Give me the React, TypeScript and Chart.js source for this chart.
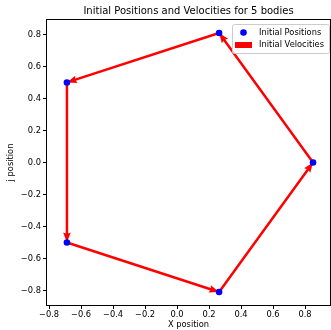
import React, { useEffect, useRef } from "react";
import { Chart, registerables } from "chart.js";

Chart.register(...registerables);

// Body positions (five bodies on a ring)
const posX = [0.85, 0.263, -0.688, -0.688, 0.263];
const posY = [0.0, 0.809, 0.5, -0.5, -0.809];

// Initial velocity vectors for each body
const velX = [-0.587, -0.951, 0.0, 0.951, 0.587];
const velY = [0.809, -0.309, -1.0, -0.309, 0.809];

const tickValues = [-0.8, -0.6, -0.4, -0.2, 0.0, 0.2, 0.4, 0.6, 0.8];

const TITLE = "Initial Positions and Velocities for 5 bodies";
const LEGEND_POS = "Initial Positions";
const LEGEND_VEL = "Initial Velocities";

const FONT = "'DejaVu Sans', sans-serif";

const fmt = (v: number) => {
  const s = (Math.abs(v) < 1e-9 ? 0 : v).toFixed(1);
  return s.replace("-", "\u2212");
};

const arrowsPlugin = {
  id: "velocityArrows",
  beforeDatasetsDraw(chart: any) {
    const { ctx, scales } = chart;
    const sx = scales.x;
    const sy = scales.y;
    const shaft = 2.5;
    const headLen = 10;
    const headAxis = 9;
    const headHalf = 3.8;
    ctx.save();
    ctx.fillStyle = "#ff0000";
    for (let i = 0; i < posX.length; i++) {
      const x0 = sx.getPixelForValue(posX[i]);
      const y0 = sy.getPixelForValue(posY[i]);
      const x1 = sx.getPixelForValue(posX[i] + velX[i]);
      const y1 = sy.getPixelForValue(posY[i] + velY[i]);
      const len = Math.hypot(x1 - x0, y1 - y0);
      const dx = (x1 - x0) / len;
      const dy = (y1 - y0) / len;
      const nx = -dy;
      const ny = dx;
      const bx = x1 - dx * headAxis;
      const by = y1 - dy * headAxis;
      const hx = x1 - dx * headLen;
      const hy = y1 - dy * headLen;
      ctx.beginPath();
      ctx.moveTo(x0 + nx * shaft / 2, y0 + ny * shaft / 2);
      ctx.lineTo(bx + nx * shaft / 2, by + ny * shaft / 2);
      ctx.lineTo(hx + nx * headHalf, hy + ny * headHalf);
      ctx.lineTo(x1, y1);
      ctx.lineTo(hx - nx * headHalf, hy - ny * headHalf);
      ctx.lineTo(bx - nx * shaft / 2, by - ny * shaft / 2);
      ctx.lineTo(x0 - nx * shaft / 2, y0 - ny * shaft / 2);
      ctx.closePath();
      ctx.fill();
    }
    ctx.restore();
  },
};

const decorPlugin = {
  id: "decor",
  afterDraw(chart: any) {
    const { ctx, chartArea } = chart;
    const { left, right, top, bottom } = chartArea;
    ctx.save();
    // axes frame
    ctx.strokeStyle = "#000";
    ctx.lineWidth = 1;
    ctx.strokeRect(Math.round(left) - 0.5, Math.round(top) - 0.5, Math.round(right - left) + 1, Math.round(bottom - top) + 1);

    // title
    ctx.fillStyle = "#000";
    ctx.font = `10px ${FONT}`;
    ctx.textAlign = "center";
    ctx.textBaseline = "middle";
    ctx.fillText(TITLE, (left + right) / 2, 11);

    // legend
    const lx = 232;
    const ly = 24;
    const lw = 97;
    const lh = 29;
    ctx.beginPath();
    ctx.roundRect(lx + 0.5, ly + 0.5, lw, lh, 2);
    ctx.fillStyle = "rgba(255,255,255,0.8)";
    ctx.fill();
    ctx.strokeStyle = "#cccccc";
    ctx.lineWidth = 1;
    ctx.stroke();

    ctx.beginPath();
    ctx.arc(243.5, 32.5, 3.3, 0, Math.PI * 2);
    ctx.fillStyle = "#0000ff";
    ctx.fill();

    ctx.fillStyle = "#ff0000";
    ctx.fillRect(235, 42, 17, 6);

    ctx.fillStyle = "#000";
    ctx.font = `8.3px ${FONT}`;
    ctx.textAlign = "left";
    ctx.textBaseline = "middle";
    ctx.fillText(LEGEND_POS, 259, 32.5);
    ctx.fillText(LEGEND_VEL, 259, 45);
    ctx.restore();
  },
};

export default function App() {
  const ref = useRef<HTMLCanvasElement | null>(null);

  useEffect(() => {
    if (!ref.current) return;
    const setTicks = (scale: any) => {
      scale.ticks = tickValues.map((v) => ({ value: v }));
    };
    const chart = new Chart(ref.current, {
      type: "scatter",
      data: {
        datasets: [
          {
            label: LEGEND_POS,
            data: posX.map((x, i) => ({ x, y: posY[i] })),
            backgroundColor: "#0000ff",
            borderColor: "#0000ff",
            pointRadius: 3.3,
            pointBorderWidth: 0,
          },
        ],
      },
      options: {
        responsive: false,
        animation: false,
        events: [],
        layout: { autoPadding: false, padding: { top: 20, right: 1, left: 0, bottom: 0 } },
        plugins: {
          legend: { display: false },
          title: { display: false },
          tooltip: { enabled: false },
        },
        scales: {
          x: {
            type: "linear",
            min: -0.8125,
            max: 0.956,
            afterBuildTicks: setTicks,
            afterFit: (s: any) => {
              s.height = 25;
              s.paddingLeft = 0;
              s.paddingRight = 0;
            },
            border: { display: false },
            grid: {
              drawOnChartArea: false,
              drawTicks: true,
              tickLength: 4,
              tickColor: "#000",
              color: "#000",
            },
            ticks: {
              autoSkip: false,
              maxRotation: 0,
              padding: 1,
              color: "#000",
              font: { family: FONT, size: 8.3 },
              callback: (v: any) => fmt(Number(v)),
            },
            title: {
              display: true,
              text: "X position",
              color: "#000",
              font: { family: FONT, size: 8.3 },
              padding: { top: 0, bottom: 0.5 },
            },
          },
          y: {
            type: "linear",
            min: -0.89,
            max: 0.89,
            afterBuildTicks: setTicks,
            afterFit: (s: any) => {
              s.width = 47;
              s.paddingTop = 0;
              s.paddingBottom = 0;
            },
            border: { display: false },
            grid: {
              drawOnChartArea: false,
              drawTicks: true,
              tickLength: 4,
              tickColor: "#000",
              color: "#000",
            },
            ticks: {
              autoSkip: false,
              padding: 2,
              color: "#000",
              font: { family: FONT, size: 8.3 },
              callback: (v: any) => fmt(Number(v)),
            },
            title: {
              display: true,
              text: "j position",
              color: "#000",
              font: { family: FONT, size: 8.3 },
              padding: { top: 6, bottom: 0 },
            },
          },
        },
      },
      plugins: [arrowsPlugin, decorPlugin],
    });
    return () => chart.destroy();
  }, []);

  return (
    <div style={{ position: "fixed", left: 0, top: 0, width: 331, height: 330, background: "#fff" }}>
      <canvas ref={ref} width={331} height={330} />
    </div>
  );
}
